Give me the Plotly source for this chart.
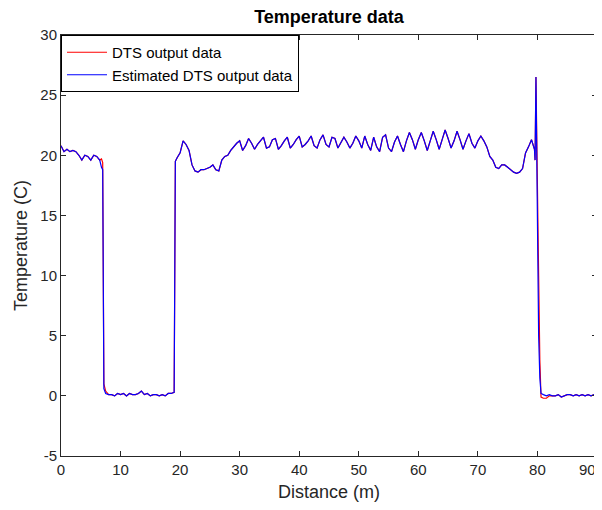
import numpy as np
import plotly.graph_objects as go

# ---------------- data ----------------
# segment A: 0 .. 6.5 m, step 0.5
dist_a = np.arange(0, 6.51, 0.5)
blue_a = [20.8, 20.3, 20.5, 20.3, 20.4, 20.3, 20.0, 19.6, 20.0, 19.9, 19.6, 20.0, 19.9, 19.6]
red_a = blue_a

# first drop
dist_drop1 = [6.8, 7.0, 7.2, 7.5]
blue_drop1 = [19.0, 18.8, 0.6, 0.2]
red_drop1 = [19.7, 19.4, 1.0, 0.4]

# segment B: 8 .. 18.5 m, step 0.5
dist_b = np.arange(8, 18.51, 0.5)
blue_b = [0.1, 0.1, 0.0, 0.2, 0.1, 0.2, 0.0, 0.2, 0.1, 0.1, 0.2,
          0.4, 0.1, 0.2, 0.0, 0.1, 0.1, 0.0, 0.1, 0.0, 0.2, 0.2]
red_b = blue_b

# rise
dist_rise = [19.0, 19.2, 19.5]
blue_rise = [0.3, 19.5, 19.8]
red_rise = blue_rise

# segment C: 20 .. 79.5 m, step 0.5
dist_c = np.arange(20, 79.51, 0.5)
blue_c = [20.2, 21.2, 20.9, 20.4, 19.2, 18.7, 18.6, 18.8, 18.8, 18.9,
          19.0, 19.2, 18.8, 18.7, 19.6, 19.9, 20.0, 20.4, 20.7, 21.0,
          21.2, 20.4, 20.8, 21.4, 21.0, 20.5, 20.9, 21.2, 21.5, 20.6,
          20.7, 21.3, 21.4, 20.5, 20.8, 21.2, 21.5, 20.6, 20.9, 21.3,
          21.6, 20.7, 20.9, 21.2, 21.6, 20.8, 20.6, 21.3, 21.7, 20.9,
          20.7, 21.5, 21.4, 20.6, 21.0, 21.5, 21.1, 20.6, 21.0, 21.6,
          21.2, 20.6, 21.6, 20.9, 20.4, 21.5, 20.7, 20.3, 21.5, 21.7,
          20.6, 20.3, 21.1, 21.6, 20.9, 20.3, 21.2, 21.9, 21.3, 20.5,
          21.3, 21.9, 21.2, 20.4, 21.2, 22.0, 21.3, 20.5, 21.3, 22.1,
          21.4, 20.6, 21.2, 22.0, 21.3, 20.5, 21.2, 21.8, 21.0, 20.6,
          21.2, 21.6, 21.2, 20.7, 19.9, 19.6, 19.0, 18.9, 19.2, 19.2,
          19.0, 18.8, 18.6, 18.5, 18.6, 18.9, 20.2, 20.7, 21.3, 20.5]
red_c = blue_c

# spike and second drop
dist_spike = [79.6, 79.75, 79.85, 80.0, 80.2, 80.4, 80.6]
blue_spike = [19.6, 26.5, 21.5, 18.0, 5.0, 1.5, 0.2]
red_spike = [19.6, 26.5, 21.5, 18.0, 10.0, 3.0, -0.1]

# segment D: 81 .. 90 m, step 0.5
dist_d = np.arange(81, 90.01, 0.5)
blue_d = [0.1, 0.0, 0.1, 0.0, 0.0, 0.1, -0.1, 0.0, 0.1, 0.1,
          0.0, 0.1, 0.0, 0.1, 0.0, 0.1, 0.0, 0.1, 0.0]
red_d = [-0.2, -0.2, 0.0, 0.0, 0.0, 0.1, -0.1, 0.0, 0.1, 0.1,
         0.0, 0.1, 0.0, 0.1, 0.0, 0.1, 0.0, 0.1, 0.0]

x_ticks = [0, 10, 20, 30, 40, 50, 60, 70, 80, 90]
x_tick_labels = ["0", "10", "20", "30", "40", "50", "60", "70", "80", "90"]
y_ticks = [-5, 0, 5, 10, 15, 20, 25, 30]
y_tick_labels = ["-5", "0", "5", "10", "15", "20", "25", "30"]

distance = np.concatenate([dist_a, dist_drop1, dist_b, dist_rise, dist_c, dist_spike, dist_d])
dts = np.concatenate([red_a, red_drop1, red_b, red_rise, red_c, red_spike, red_d])
est = np.concatenate([blue_a, blue_drop1, blue_b, blue_rise, blue_c, blue_spike, blue_d])

# ---------------- figure ----------------
FONT = "Liberation Sans, Arial, Helvetica, sans-serif"
AX = "#262626"

fig = go.Figure()
fig.add_trace(go.Scatter(x=distance, y=dts, mode="lines", name="DTS output data",
                         line=dict(color="#ff0000", width=1.2)))
fig.add_trace(go.Scatter(x=distance, y=est, mode="lines", name="Estimated DTS output data",
                         line=dict(color="#0000ff", width=1.2)))

axis_common = dict(showline=True, linecolor=AX, linewidth=1, mirror="allticks",
                   ticks="inside", ticklen=5, tickcolor=AX, showgrid=False,
                   zeroline=False, automargin=False,
                   tickfont=dict(family=FONT, size=15, color=AX))

# the last x label sits against the right edge, so it is drawn right-aligned to its tick
shown_x_labels = x_tick_labels[:-1] + [""]

# the page body has an 8px margin, so the figure is sized to fit the 602x510 window
fig.update_layout(
    width=594, height=502,
    paper_bgcolor="white", plot_bgcolor="white",
    margin=dict(l=53, r=5, t=27, b=54),
    title=dict(text="<b>Temperature data</b>", xref="paper", x=0.5, xanchor="center",
               yref="container", y=0.982, yanchor="middle",
               font=dict(family=FONT, size=18, color="black")),
    xaxis=dict(range=[0, 90], tickvals=x_ticks, ticktext=shown_x_labels,
               title=dict(text="Distance (m)", font=dict(family=FONT, size=18, color=AX), standoff=8),
               **axis_common),
    yaxis=dict(range=[-5, 30], tickvals=y_ticks, ticktext=y_tick_labels,
               title=dict(text="Temperature (C)", font=dict(family=FONT, size=18, color=AX), standoff=8),
               **axis_common),
    legend=dict(x=0.0, y=1.0, xanchor="left", yanchor="top",
                bgcolor="white", bordercolor="black", borderwidth=1,
                font=dict(family=FONT, size=15, color="black"),
                itemwidth=40, tracegroupgap=0),
    showlegend=True,
    annotations=[dict(text=x_tick_labels[-1], x=x_ticks[-1], xref="x", y=0, yref="paper",
                      xanchor="right", yanchor="middle", yshift=-13, xshift=1, showarrow=False,
                      font=dict(family=FONT, size=15, color=AX))],
)

fig.write_html("out.html")
